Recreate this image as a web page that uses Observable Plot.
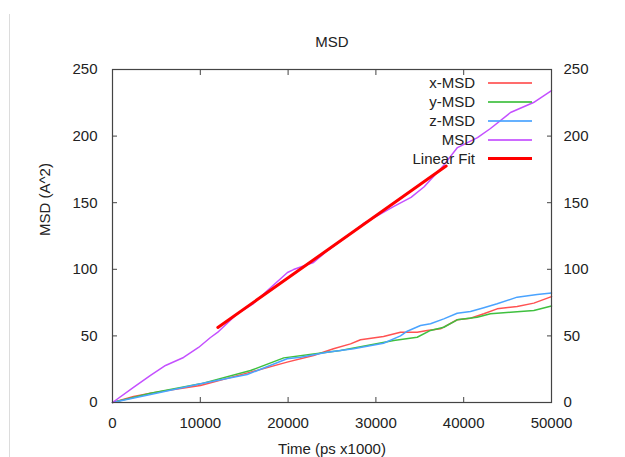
<!DOCTYPE html>
<html><head><meta charset="utf-8">
<script src="https://cdn.jsdelivr.net/npm/d3@7"></script>
<script src="https://cdn.jsdelivr.net/npm/@observablehq/plot@0.6"></script>
<style>
body{margin:0;background:#fff;font-family:"Liberation Sans",Arial,sans-serif;}
#wrap{position:relative;width:625px;height:457px;overflow:hidden;}
#edge{position:absolute;left:9px;top:14px;bottom:0;border-left:1px solid #dcdcdc;}
#legend{position:absolute;left:275px;top:73px;}
#legend .row{display:flex;align-items:center;height:19px;}
#legend .lab{width:200px;text-align:right;font-size:15px;color:#222;}
#legend .sw{width:44px;margin-left:13px;}
</style></head><body>
<div id="wrap"><div id="edge"></div></div>
<script>
// ---- data ----
const seriesNames = ["x-MSD", "y-MSD", "z-MSD", "MSD", "Linear Fit"];
const seriesColors = ["#ff5252", "#3fc03f", "#4aa3ff", "#c450ff", "#ff0000"];

const xMsdT = [0, 2400, 4330, 6230, 10020, 15720, 19890, 22900, 25170, 27110, 28250, 30870, 32800, 34700, 35840, 37360, 39260, 40770, 42290, 43810, 46090, 47990, 50000];
const xMsdV = [0, 4.5, 7.0, 9.0, 12.8, 22.8, 30.3, 35.3, 40.3, 44.0, 47.1, 49.5, 52.8, 52.8, 54.1, 55.3, 62.1, 63.3, 66.6, 70.3, 72.1, 74.6, 79.5];

const yMsdT = [0, 4330, 10020, 15720, 19510, 22900, 25970, 29010, 32030, 34700, 36220, 37730, 39260, 41530, 43050, 45330, 47990, 50000];
const yMsdV = [0, 7.0, 14.0, 24.0, 33.5, 36.5, 39.0, 42.8, 46.5, 49.0, 54.1, 56.5, 62.1, 64.0, 66.6, 67.8, 69.1, 72.5];

const zMsdT = [0, 4330, 10020, 15340, 19890, 21410, 24450, 27450, 30870, 32800, 33570, 35080, 36220, 37730, 39260, 40770, 42290, 43810, 46090, 48370, 50000];
const zMsdV = [0, 6.0, 14.0, 21.0, 32.8, 34.0, 37.8, 40.3, 44.5, 50.0, 53.5, 57.8, 59.1, 62.8, 67.0, 68.3, 71.1, 74.1, 79.1, 81.1, 82.2];

const msdT = [0, 2390, 4330, 6040, 8090, 9800, 11160, 11960, 14240, 16060, 17650, 19930, 20620, 22890, 24490, 27000, 28600, 30000, 32000, 34000, 35500, 37700, 39290, 41570, 43050, 45330, 47950, 50000];
const msdV = [0, 11.3, 20.3, 27.8, 33.8, 41.3, 48.8, 52.6, 66.8, 74.3, 84.1, 97.6, 99.8, 105.1, 114.1, 126, 134.4, 139.5, 147, 154, 162, 178, 191.4, 198.9, 205.7, 217.7, 225.2, 234.2];

const fitT = [12000, 38000];
const fitV = [56.3, 177.5];

const xTicks = [0, 10000, 20000, 30000, 40000, 50000];
const yTicks = [0, 50, 100, 150, 200, 250];

const title = "MSD";
const xLabel = "Time (ps x1000)";
const yLabel = "MSD (A^2)";

// ---- build ----
const toRows = (T, V) => T.map((t, i) => ({t, v: V[i]}));
const series = [
  toRows(xMsdT, xMsdV), toRows(yMsdT, yMsdV), toRows(zMsdT, zMsdV), toRows(msdT, msdV), toRows(fitT, fitV)
];
const widths = [1.5, 1.5, 1.5, 1.5, 3];
const fmt = d3.format("d");

const chart = Plot.plot({
  width: 625, height: 457,
  marginTop: 69, marginRight: 74, marginBottom: 55, marginLeft: 112,
  style: {fontFamily: "'Liberation Sans', Arial, sans-serif", fontSize: "15px", color: "#222", background: "transparent"},
  x: {domain: [0, 50000]},
  y: {domain: [0, 250]},
  marks: [
    ...series.map((rows, i) => Plot.line(rows, {x: "t", y: "v", stroke: seriesColors[i], strokeWidth: widths[i]})),
    Plot.frame({stroke: "#444", strokeWidth: 1.2}),
    Plot.axisX(xTicks, {anchor: "bottom", tickSize: -5, tickPadding: 20, tickFormat: fmt, label: null, stroke: "#444"}),
    Plot.axisX(xTicks, {anchor: "top", tickSize: -5, tickFormat: () => "", label: null, stroke: "#444"}),
    Plot.axisY(yTicks, {anchor: "left", tickSize: -5, tickPadding: 20, tickFormat: fmt, label: null, stroke: "#444"}),
    Plot.axisY(yTicks, {anchor: "right", tickSize: -5, tickPadding: 17, tickFormat: fmt, label: null, stroke: "#444"}),
    Plot.text([title], {frameAnchor: "top", dy: -27, lineAnchor: "middle", fontSize: 15, fill: "#222"}),
    Plot.text([xLabel], {frameAnchor: "bottom", dy: 47, lineAnchor: "middle", fontSize: 15, fill: "#222"}),
    Plot.text([yLabel], {frameAnchor: "left", dx: -67, rotate: -90, fontSize: 15, fill: "#222"})
  ]
});
const wrap = document.getElementById("wrap");
chart.style.position = "absolute";
chart.style.left = "0"; chart.style.top = "0";
wrap.appendChild(chart);

// legend
const legend = document.createElement("div");
legend.id = "legend";
seriesNames.forEach((name, i) => {
  const row = document.createElement("div");
  row.className = "row";
  const lab = document.createElement("span");
  lab.className = "lab"; lab.textContent = name;
  const sw = document.createElement("span");
  sw.className = "sw";
  sw.style.height = `${i === 4 ? 3 : 2}px`;
  sw.style.background = seriesColors[i];
  if (i !== 4) sw.style.opacity = "0.85";
  row.appendChild(lab); row.appendChild(sw);
  legend.appendChild(row);
});
wrap.appendChild(legend);
</script>
</body></html>
